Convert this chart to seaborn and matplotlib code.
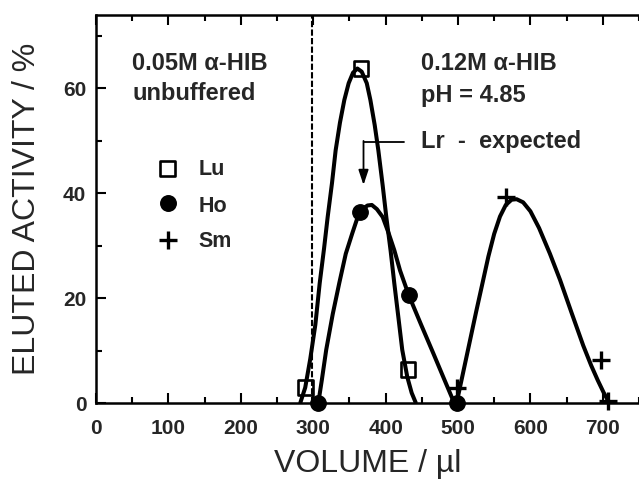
import matplotlib
matplotlib.use("Agg")
import matplotlib.pyplot as plt
import seaborn as sns
import pandas as pd

# Measured elution points (volume in microlitres, activity in percent)
lu_vol = [290, 366, 431]
lu_act = [3.0, 63.8, 6.5]
ho_vol = [307, 365, 432, 498]
ho_act = [0.0, 36.5, 20.6, 0.0]
sm_vol = [498, 566, 698, 707]
sm_act = [3.0, 39.3, 8.2, 0.5]

# Hand-drawn elution curves through the measured points
lu_curve_vol = [282, 289, 296, 303, 309, 315, 320, 326, 331, 337, 343, 349, 355,
                361, 367, 374, 379, 385, 390, 396, 401, 407, 412, 418, 423, 430,
                436, 442]
lu_curve_act = [0, 3, 8.5, 15, 22.9, 29.5, 35.5, 42, 48.2, 53.5, 57.8, 61, 63,
                63.8, 63.2, 61, 57.8, 53, 48.2, 41.5, 35.5, 29, 22.9, 16, 10.2, 5,
                2, 0]
ho_curve_vol = [307, 312, 318, 327, 336, 345, 354, 361, 368, 375, 381, 388, 396,
                404, 412, 420, 432, 449, 466, 480, 495]
ho_curve_act = [0, 4.5, 10.2, 17, 22.9, 28.5, 32.4, 35.3, 37, 37.7, 37.8, 37,
                35.5, 32.5, 29.2, 25.3, 20.6, 15.0, 9.5, 4.9, 0]
sm_curve_vol = [498, 507, 516, 525, 534, 542, 550, 558, 566, 574, 581, 590, 600,
                612, 627, 641, 657, 673, 684, 693, 701, 708]
sm_curve_act = [0, 5.8, 11.6, 17.4, 23.0, 28.0, 32.3, 35.6, 37.8, 38.8, 38.9,
                38.3, 36.6, 33.4, 28.5, 23.5, 17.2, 11.0, 7.2, 4.4, 2.1, 0.3]

x_ticks = [0, 100, 200, 300, 400, 500, 600, 700]
y_ticks = [0, 20, 40, 60]
eluent_change = 298

sns.set_style("ticks")
plt.rcParams["font.family"] = ["Liberation Sans", "DejaVu Sans"]

fig = plt.figure(figsize=(6.39, 4.79), dpi=100)
ax = fig.add_axes([0.1502, 0.158, 0.8498, 0.8107])

curve_kw = dict(color="black", linewidth=2.9, sort=False, estimator=None,
                ax=ax, legend=False)
for cx, cy in [(lu_curve_vol, lu_curve_act), (ho_curve_vol, ho_curve_act),
               (sm_curve_vol, sm_curve_act)]:
    sns.lineplot(data=pd.DataFrame({"v": cx, "a": cy}), x="v", y="a", **curve_kw)
for ln in ax.lines:
    ln.set_solid_capstyle("butt")
    ln.set_solid_joinstyle("round")
    ln.set_clip_on(False)

# measured points
sns.scatterplot(x=lu_vol, y=lu_act, marker="s", s=115, facecolors="none",
                edgecolors="black", linewidth=1.9, ax=ax, clip_on=False, zorder=5)
sns.scatterplot(x=ho_vol, y=ho_act, marker="o", s=125, color="black",
                edgecolor="black", ax=ax, clip_on=False, zorder=5)
sns.scatterplot(x=sm_vol, y=sm_act, marker="+", s=170, color="black",
                linewidth=2.4, ax=ax, clip_on=False, zorder=5)

# eluent change
ax.axvline(eluent_change, color="black", lw=1.5, ls=(0, (3.0, 1.1)), zorder=1)

# legend, drawn inside the left panel
leg_x, txt_x = 99.4, 142
leg_rows = [("s", "Lu", 44.7, 43.5), ("o", "Ho", 38.1, 36.5), ("+", "Sm", 31.1, 29.8)]
for mk, name, my, ty in leg_rows:
    if mk == "s":
        ax.scatter([leg_x], [my], marker="s", s=115, facecolors="none",
                   edgecolors="black", linewidths=1.9, zorder=5)
    elif mk == "o":
        ax.scatter([leg_x], [my], marker="o", s=125, color="black", zorder=5)
    else:
        ax.scatter([leg_x], [my], marker="+", s=170, color="black",
                   linewidths=2.4, zorder=5)
    ax.text(txt_x, ty, name, fontsize=15.5, fontweight="bold", va="baseline",
            ha="left")

note_kw = dict(fontsize=17, fontweight="bold", va="baseline", ha="left")
ax.text(50.2, 63.6, "0.05M α-HIB", **note_kw)
ax.text(50.2, 57.8, "unbuffered", **note_kw)
ax.text(448.8, 63.5, "0.12M α-HIB", **note_kw)
ax.text(448.8, 57.4, "pH = 4.85", **note_kw)
ax.text(448.8, 48.6, "Lr  -  expected", **note_kw)

# expected position of Lr
ax.plot([426, 369.5], [49.8, 49.8], color="black", lw=1.3)
ax.annotate("", xy=(369.5, 41.6), xytext=(369.5, 50.0),
            arrowprops=dict(arrowstyle="-|>,head_length=0.9,head_width=0.3",
                            color="black", lw=1.3, shrinkA=0, shrinkB=0))

ax.set_xlim(0, 729.6)
ax.set_ylim(0, 74)
ax.set_xticks(x_ticks)
ax.set_yticks(y_ticks)
ax.set_xticks([50, 150, 250, 350, 450, 550, 650, 750], minor=True)
ax.set_yticks([10, 30, 50, 70], minor=True)
ax.set_xticklabels([str(t) for t in x_ticks], fontsize=15, fontweight="bold")
ax.set_yticklabels([str(t) for t in y_ticks], fontsize=15, fontweight="bold")
ax.tick_params(which="both", direction="in", top=True, right=False, width=1.5,
               color="black")
ax.tick_params(which="major", length=7.5)
ax.tick_params(which="minor", length=4.5)
ax.tick_params(axis="x", which="major", pad=11)
ax.tick_params(axis="y", which="major", pad=7)

for side in ["left", "bottom", "top"]:
    ax.spines[side].set_linewidth(1.8)
    ax.spines[side].set_color("black")
ax.spines["right"].set_visible(False)

ax.set_xlabel("VOLUME / µl", fontsize=23)
ax.set_ylabel("ELUTED ACTIVITY / %", fontsize=23)
ax.xaxis.set_label_coords(0.5, -0.118)
ax.yaxis.set_label_coords(-0.100, 0.5)

fig.savefig("out.png", dpi=100)
